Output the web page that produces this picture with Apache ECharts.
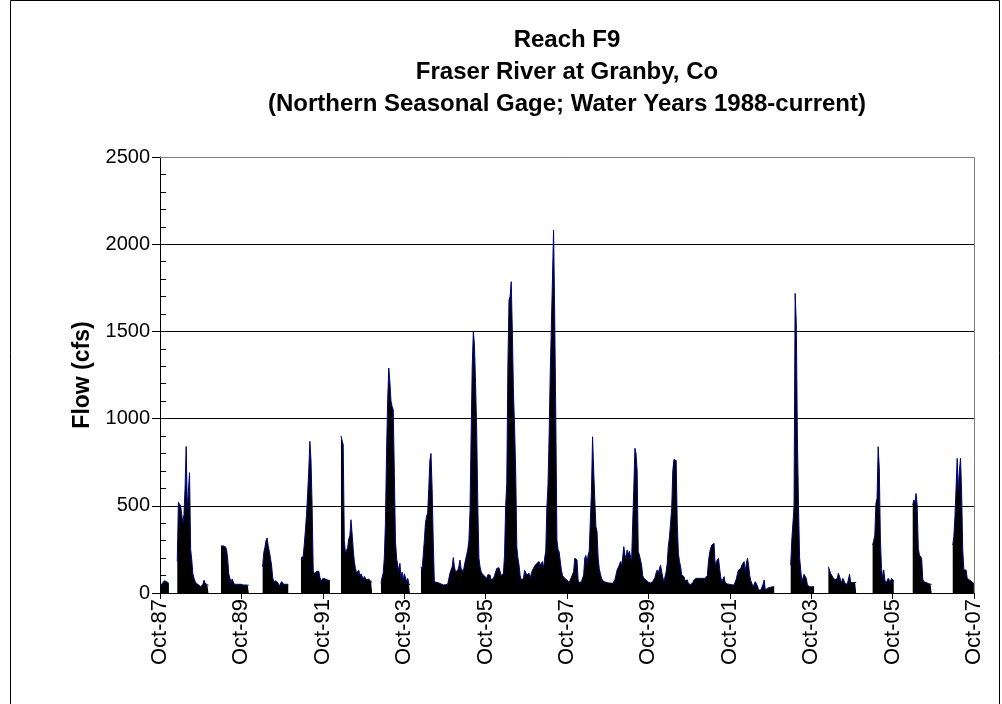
<!DOCTYPE html>
<html>
<head>
<meta charset="utf-8">
<title>Reach F9 - Fraser River at Granby</title>
<script src="https://cdn.jsdelivr.net/npm/echarts@6/dist/echarts.min.js"></script>
<style>
    html, body { margin: 0; padding: 0; background: #fff; }
    #chart { width: 1002px; height: 704px; }
</style>
</head>
<body>
<div id="chart"></div>
<script>
    // flow values (cfs), one value every 10 days
    const STEP_DAYS = 10;
    const ORIGIN = '1987-10-01';

    const titleLines = [
        'Reach F9',
        'Fraser River at Granby, Co',
        '(Northern Seasonal Gage; Water Years 1988-current)'
    ];
    const tickLabels = ['Oct-87', 'Oct-89', 'Oct-91', 'Oct-93', 'Oct-95', 'Oct-97',
        'Oct-99', 'Oct-01', 'Oct-03', 'Oct-05', 'Oct-07'];

    // each season: start date, then values every STEP_DAYS
    const wy1988a = [40, 50, 55, 60, 70, 72, 65, 60, 55];
    const wy1988b = [180, 520, 530, 500, 450, 400, 450, 600, 840, 480, 475, 690, 250, 189, 110,
        85, 67, 55, 50, 48, 40, 36, 34, 50, 73, 55, 50, 48, 45];
    const wy1989 = [270, 275, 270, 270, 265, 250, 200, 110, 100, 60, 80, 85, 50, 45, 50, 50,
        50, 50, 50, 48, 46, 46, 46, 45, 45, 45];
    const wy1990 = [150, 230, 260, 300, 315, 270, 240, 200, 160, 90, 65, 65, 70, 75, 55, 40,
        40, 65, 55, 50, 50, 50, 50, 50];
    const wy1991 = [200, 205, 210, 280, 360, 450, 570, 700, 870, 760, 500, 130, 110, 120, 125,
        120, 125, 90, 70, 80, 85, 75, 80, 85, 75, 70, 70];
    const wy1992 = [900, 905, 850, 300, 230, 220, 260, 310, 330, 420, 340, 250, 180, 140, 115,
        110, 130, 95, 110, 113, 80, 95, 85, 75, 75, 80, 70, 65, 60];
    const wy1993 = [55, 90, 115, 200, 400, 800, 1100, 1290, 1210, 1100, 1070, 1050, 690, 300,
        200, 160, 125, 170, 90, 120, 75, 110, 105, 65, 84, 55, 46];
    // year-round record Feb 1994 - Sep 2002
    const wy1994to2002 = [
        151, 130, 122, 300, 400, 440, 457, 600, 760, 800,
        600, 300, 65, 58, 61, 60, 58, 55, 52, 50,
        46, 46, 48, 46, 50, 55, 113, 122, 150, 203,
        150, 122, 113, 130, 151, 189, 141, 130, 122, 160,
        190, 218, 250, 300, 466, 900, 1300, 1500, 1420, 1200,
        934, 500, 200, 150, 122, 110, 103, 97, 94, 84,
        105, 110, 103, 75, 80, 84, 100, 110, 141, 141,
        145, 151, 100, 90, 113, 220, 500, 629, 1300, 1680,
        1700, 1785, 1500, 1145, 953, 700, 266, 200, 160, 100,
        75, 80, 84, 130, 141, 103, 110, 113, 84, 110,
        130, 141, 155, 160, 170, 178, 180, 160, 170, 180,
        141, 200, 240, 495, 620, 900, 1259, 1527, 1800, 2081,
        1600, 1000, 304, 250, 235, 227, 132, 100, 94, 85,
        80, 75, 65, 60, 55, 90, 100, 122, 199, 200,
        190, 75, 60, 55, 65, 75, 103, 200, 215, 170,
        218, 240, 418, 580, 896, 700, 533, 380, 352, 200,
        140, 110, 84, 75, 65, 65, 62, 60, 58, 58,
        57, 56, 55, 60, 75, 103, 132, 141, 160, 180,
        160, 200, 266, 220, 200, 246, 218, 240, 246, 180,
        400, 600, 830, 800, 700, 237, 218, 215, 160, 100,
        84, 78, 75, 65, 62, 60, 58, 55, 65, 75,
        90, 115, 132, 113, 140, 160, 122, 90, 65, 75,
        120, 170, 270, 320, 400, 485, 700, 765, 772, 760,
        400, 227, 180, 150, 103, 98, 94, 70, 65, 75,
        55, 50, 48, 46, 60, 75, 84, 84, 84, 84,
        84, 84, 84, 84, 84, 84, 85, 100, 180, 230,
        256, 275, 280, 285, 160, 180, 189, 199, 140, 90,
        65, 80, 94, 60, 55, 52, 50, 50, 48, 47,
        46, 46, 46, 80, 110, 132, 138, 141, 160, 170,
        180, 122, 170, 199, 160, 100, 70, 55, 35, 30,
        65, 55, 40, 17, 17, 17, 17, 50, 75, 17,
        25, 27, 30, 32, 33, 35, 36, 36
    ];
    const wy2003 = [160, 304, 400, 495, 1718, 1550, 900, 500, 200, 132, 65, 65, 107, 103, 84,
        46, 40, 36, 36, 36, 36, 36];
    const wy2004 = [151, 140, 113, 103, 90, 84, 75, 65, 84, 113, 118, 75, 60, 84, 70, 55, 60,
        50, 46, 107, 60, 60, 60, 60, 60, 60];
    const wy2005 = [275, 300, 332, 514, 543, 839, 715, 304, 141, 84, 132, 75, 55, 65, 84, 75,
        65, 84, 75, 70];
    const wy2006 = [504, 533, 520, 571, 504, 256, 218, 210, 199, 80, 65, 60, 60, 55, 55, 55, 50, 50];
    const wy2007 = [275, 323, 438, 600, 772, 590, 700, 772, 571, 246, 132, 140, 132, 84, 75, 75,
        65, 65, 60, 55];

    const seasons = [
        ['1987-10-01', wy1988a],
        ['1988-03-04', wy1988b],
        ['1989-03-31', wy1989],
        ['1990-04-09', wy1990],
        ['1991-03-19', wy1991],
        ['1992-03-12', wy1992],
        ['1993-03-06', wy1993],
        ['1994-02-28', wy1994to2002],
        ['2003-03-31', wy2003],
        ['2004-03-03', wy2004],
        ['2005-04-04', wy2005],
        ['2006-03-30', wy2006],
        ['2007-03-24', wy2007]
    ];

    const DAY = 86400000;
    const FONT = '"Liberation Sans", Arial, sans-serif';

    // x is days since 1 Oct 1987, nulls break the area between seasons
    let flowData = [];
    seasons.forEach(function (s) {
        let d0 = Math.round((Date.parse(s[0]) - Date.parse(ORIGIN)) / DAY);
        s[1].forEach(function (v, i) {
            flowData.push([d0 + i * STEP_DAYS, v]);
        });
        flowData.push([d0 + s[1].length * STEP_DAYS - 5, null]);
    });

    const TWO_YEARS = 730.5;

    let chart = echarts.init(document.getElementById('chart'));
    chart.setOption({
        backgroundColor: '#fff',
        animation: false,
        grid: {left: 160, right: 28, top: 157, bottom: 111},
        xAxis: {
            type: 'value',
            min: 0,
            max: TWO_YEARS * 10,
            interval: TWO_YEARS,
            axisLine: {show: true, onZero: false, lineStyle: {color: '#000', width: 1}},
            axisTick: {show: true, length: 6, lineStyle: {color: '#000'}},
            axisLabel: {
                rotate: 90,
                margin: 6,
                color: '#000',
                fontSize: 22,
                fontFamily: FONT,
                formatter: function (v) {
                    return tickLabels[Math.round(v / TWO_YEARS)] || '';
                }
            },
            splitLine: {show: false}
        },
        yAxis: [
            {
                type: 'value',
                min: 0,
                max: 2500,
                interval: 500,
                name: 'Flow (cfs)',
                nameLocation: 'middle',
                nameGap: 62,
                nameTextStyle: {color: '#000', fontSize: 23, fontWeight: 'bold', fontFamily: FONT},
                axisLine: {show: true, lineStyle: {color: '#000', width: 1}},
                axisTick: {show: true, length: 8, lineStyle: {color: '#000'}},
                axisLabel: {
                    color: '#000', fontSize: 20, fontFamily: FONT, margin: 10,
                    formatter: function (v) { return String(v); }
                },
                splitLine: {show: true, lineStyle: {color: '#000', width: 1}}
            },
            {
                // minor ticks, drawn inwards
                type: 'value',
                min: 0,
                max: 2500,
                interval: 100,
                position: 'left',
                axisLine: {show: false},
                axisTick: {show: true, inside: true, length: 6, lineStyle: {color: '#000'}},
                axisLabel: {show: false},
                splitLine: {show: false}
            }
        ],
        series: [
            {
                name: 'Flow',
                type: 'line',
                data: flowData,
                showSymbol: false,
                symbol: 'none',
                sampling: false,
                connectNulls: false,
                lineStyle: {color: '#000080', width: 1},
                areaStyle: {color: '#000', opacity: 1},
                z: 3
            }
        ],
        graphic: [
            {
                type: 'rect',
                z: 100,
                shape: {x: 10.5, y: 0.5, width: 989, height: 720},
                style: {fill: 'none', stroke: '#000', lineWidth: 1}
            },
            {
                type: 'polyline',
                z: 100,
                shape: {points: [[160, 157.5], [974.5, 157.5], [974.5, 593]]},
                style: {fill: 'none', stroke: '#808080', lineWidth: 1}
            },
            {
                type: 'group',
                z: 100,
                children: titleLines.map(function (t, i) {
                    return {
                        type: 'text',
                        style: {
                            text: t,
                            x: 567,
                            y: 40 + i * 32,
                            align: 'center',
                            verticalAlign: 'middle',
                            font: 'bold 24px ' + FONT,
                            fill: '#000'
                        }
                    };
                })
            }
        ]
    });
</script>
</body>
</html>
